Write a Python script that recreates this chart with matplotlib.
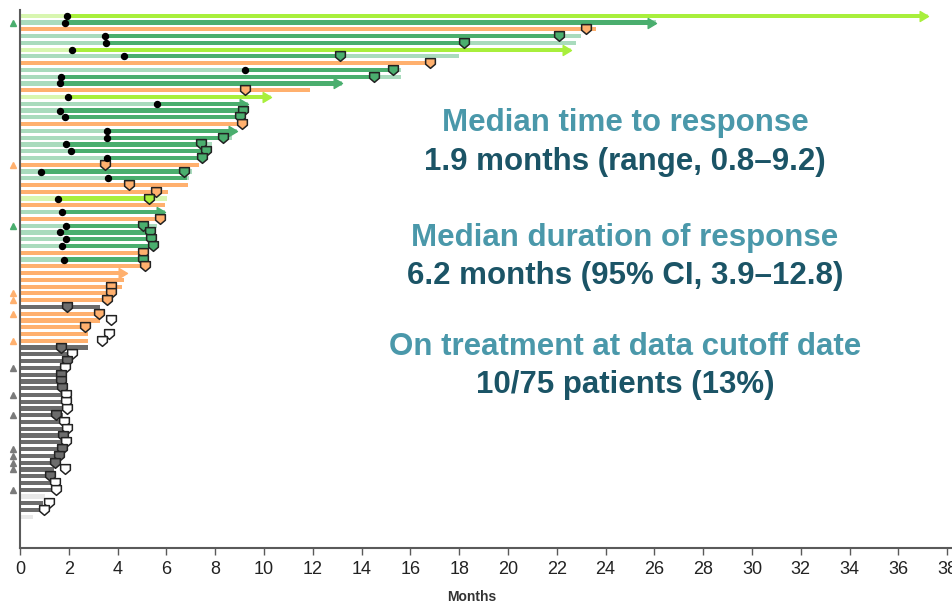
import numpy as np
import matplotlib.pyplot as plt
from matplotlib.path import Path

# patient rows, top to bottom
group = (['lime', 'green', 'orange', 'green', 'green', 'lime', 'green', 'orange', 'green', 'green',
          'green', 'orange', 'lime', 'green', 'green', 'green', 'orange', 'green', 'green', 'green',
          'green', 'green', 'orange', 'green', 'green', 'orange', 'orange', 'lime', 'orange', 'green',
          'orange', 'green', 'green', 'green', 'green', 'orange', 'green', 'orange', 'orange', 'orange',
          'orange', 'orange', 'orange', 'gray', 'orange', 'orange', 'orange', 'orange', 'orange', 'gray']
         + ['gray'] * 21 + ['lightgray', 'gray', 'gray', 'lightgray'])

# total time on study (months)
total = [37.2, 26.07, 23.6, 23.0, 22.8, 22.6, 18.0, 16.9, 15.6, 15.6,
         13.2, 11.9, 10.3, 9.36, 9.2, 9.1, 9.15, 8.88, 8.67, 7.85,
         7.6, 7.5, 7.35, 7.03, 6.94, 6.87, 6.08, 6.01, 5.94, 5.94,
         5.74, 5.6, 5.53, 5.5, 5.46, 5.1, 5.05, 5.15, 4.37, 4.26,
         4.17, 3.75, 3.6, 3.28, 3.28, 3.28, 2.8, 2.8, 2.8, 2.8,
         1.93, 1.91, 1.8, 1.68, 1.67, 1.72, 1.85, 1.85, 1.9, 1.75,
         1.8, 1.9, 1.75, 1.85, 1.73, 1.58, 1.42, 1.39, 1.23, 1.4,
         1.47, 1.02, 0.96, 0.96, 0.52]

# time to response (None = no response)
resp = [1.94, 1.84, None, 3.47, 3.51, 2.14, 4.26, None, 9.22, 1.69,
        1.65, None, 1.97, 5.6, 1.65, 1.86, None, 3.55, 3.55, 1.89,
        2.08, 3.55, None, 0.85, 3.61, None, None, 1.56, None, 1.73,
        None, 1.89, 1.64, 1.89, 1.73, None, 1.8] + [None] * 38

# end of response bar
resp_end = [37.2, 26.07, None, 22.1, 18.2, 22.6, 13.1, None, 15.3, 14.5,
            13.2, None, 10.3, 9.36, 9.13, 9.0, None, 8.88, 8.33, 7.42,
            7.6, 7.47, None, 6.72, 6.83, None, None, 5.27, None, 5.94,
            None, 5.03, 5.33, 5.37, 5.44, None, 5.03] + [None] * 38

# event marker position (None = no marker)
event = [None, None, 23.2, 22.1, 18.2, None, 13.1, 16.8, 15.3, 14.5,
         None, 9.23, None, None, 9.13, 9.0, 9.1, None, 8.33, 7.42,
         7.62, 7.47, 3.48, 6.72, None, 4.48, 5.59, 5.27, None, None,
         5.72, 5.03, 5.33, 5.37, 5.44, 5.03, 5.03, 5.12, None, None,
         3.73, 3.73, 3.55, 1.91, 3.24, 3.72, 2.68, 3.66, 3.35, 1.68,
         2.14, 1.91, 1.86, 1.68, 1.67, 1.72, 1.89, 1.87, 1.94, 1.46,
         1.82, 1.94, 1.75, 1.87, 1.73, 1.58, 1.42, 1.86, 1.23, 1.42,
         1.49, None, 1.2, 0.98, None]

# rows whose event marker is open (white)
open_event = [45, 47, 48, 50, 52, 56, 57, 58, 60, 61, 63, 67, 69, 70, 72, 73]
# rows still ongoing (arrow)
ongoing = [0, 1, 5, 10, 12, 13, 17, 29, 38]
# rows flagged with a triangle
flagged = [1, 22, 31, 41, 42, 44, 48, 52, 56, 59, 64, 65, 66, 67, 70]

dark = {'lime': '#a8ef3c', 'green': '#4aae6e', 'orange': '#ffb06e',
        'gray': '#6c6c6c', 'lightgray': '#e8e8e8'}
light = {'lime': '#d8f6b0', 'green': '#a9dbbd', 'orange': '#ffb06e',
         'gray': '#6c6c6c', 'lightgray': '#e8e8e8'}

shield = Path([(-1, 1), (1, 1), (1, -0.15), (0, -1), (-1, -0.15), (-1, 1)],
              [Path.MOVETO, Path.LINETO, Path.LINETO, Path.LINETO, Path.LINETO, Path.CLOSEPOLY])
head = Path([(-1, -0.6), (0, 0), (-1, 0.6), (-1, -0.6)],
            [Path.MOVETO, Path.LINETO, Path.LINETO, Path.CLOSEPOLY])

plt.rcParams['font.family'] = ['Liberation Sans', 'DejaVu Sans']

fig = plt.figure(figsize=(9.52, 6.05), dpi=100)
fig.patch.set_facecolor('white')
ax = fig.add_axes([20 / 952, 57 / 605, 932 / 952, 538 / 605])

h = 0.62
tip = 0.2
for i, g in enumerate(group):
    end = total[i] - (tip if i in ongoing and resp[i] is None else 0)
    ax.barh(i, end, height=h, color=light[g], linewidth=0)
    if resp[i] is not None:
        r_end = resp_end[i] - (tip if i in ongoing else 0)
        ax.barh(i, r_end - resp[i], left=resp[i], height=h, color=dark[g], linewidth=0)
    if i in ongoing:
        ax.plot(total[i], i, marker=head, markersize=12, color=dark[g], linestyle='none')
    if event[i] is not None:
        fc = 'white' if i in open_event else dark[g]
        ax.plot(event[i], i, marker=shield, markersize=7, markerfacecolor=fc,
                markeredgecolor='#222222', markeredgewidth=1.1, linestyle='none', zorder=4)
    if resp[i] is not None:
        ax.plot(resp[i], i, 'o', color='black', markersize=4.3, zorder=5)
    if i in flagged:
        ax.plot(-0.27, i, marker='^', markersize=5, color=dark[g] if g != 'gray' else '#7a7a7a',
                linestyle='none', clip_on=False)

ax.set_xlim(0, 932 / 24.4)
ax.set_ylim(78.6, -0.85)
ax.set_xticks(np.arange(0, 40, 2))
ax.set_yticks([])
for s in ['top', 'right']:
    ax.spines[s].set_visible(False)
for s in ['left', 'bottom']:
    ax.spines[s].set_color('#5a5a5a')
    ax.spines[s].set_linewidth(1.5)
ax.tick_params(axis='x', length=5, width=1, color='#5a5a5a', pad=4, labelsize=13,
               labelcolor='#222222')

fig.text(472 / 952, 1 - 597 / 605, 'Months', ha='center', va='center', fontsize=10,
         fontweight='bold', color='#333333')

lines = [('Median time to response', 123, '#4a98aa'),
         ('1.9 months (range, 0.8\u20139.2)', 162, '#1b5466'),
         ('Median duration of response', 238, '#4a98aa'),
         ('6.2 months (95% CI, 3.9\u201312.8)', 276, '#1b5466'),
         ('On treatment at data cutoff date', 347, '#4a98aa'),
         ('10/75 patients (13%)', 385, '#1b5466')]
for txt, yp, c in lines:
    fig.text(625 / 952, 1 - yp / 605, txt, ha='center', va='center', fontsize=22.5,
             fontweight='bold', color=c)

fig.savefig('out.png', dpi=100)
